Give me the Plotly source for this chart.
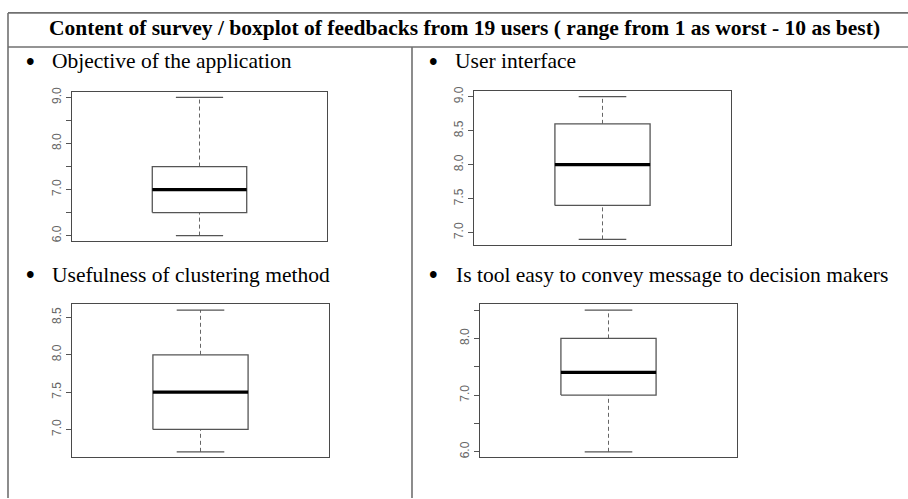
import plotly.graph_objects as go

# ---- data ----
titles = [
    "Objective of the application",
    "User interface",
    "Usefulness of clustering method",
    "Is tool easy to convey message to decision makers",
]
header = "Content of survey / boxplot of feedbacks from 19 users ( range from 1 as worst - 10 as best)"
mins = [6.0, 6.9, 6.7, 6.0]
q1s = [6.5, 7.4, 7.0, 7.0]
medians = [7.0, 8.0, 7.5, 7.4]
q3s = [7.5, 8.6, 8.0, 8.0]
maxs = [9.0, 9.0, 8.6, 8.5]
tickvals = [
    [6.0, 6.5, 7.0, 7.5, 8.0, 8.5, 9.0],
    [7.0, 7.5, 8.0, 8.5, 9.0],
    [7.0, 7.5, 8.0, 8.5],
    [6.0, 6.5, 7.0, 7.5, 8.0, 8.5],
]
ticktexts = [
    ["6.0", "", "7.0", "", "8.0", "", "9.0"],
    ["7.0", "7.5", "8.0", "8.5", "9.0"],
    ["7.0", "7.5", "8.0", "8.5"],
    ["6.0", "", "7.0", "", "8.0", ""],
]

# ---- layout geometry (pixels) ----
W, H = 908, 499
frames = [  # x0, x1, y0(top), y1(bottom)
    (72, 327, 88, 239),
    (474, 731, 87, 243),
    (72, 329, 303, 458),
    (480, 737, 303, 458),
]
title_pos = [(30, 50, 57), (433, 453, 57), (30, 50, 273), (433, 454, 273)]

def px(x):
    return x / W

def py(y):
    return 1 - y / H

fig = go.Figure()
BOXC = "#555555"
HW, CW = 0.2, 0.1
for i in range(4):
    xa = "x" if i == 0 else f"x{i+1}"
    ya = "y" if i == 0 else f"y{i+1}"
    c = 1
    fig.add_trace(go.Scatter(x=[c, c, None, c, c], y=[mins[i], q1s[i], None, q3s[i], maxs[i]],
                             mode="lines", line=dict(color="#666666", width=1, dash="4px,3px"),
                             xaxis=xa, yaxis=ya, hoverinfo="skip"))
    fig.add_trace(go.Scatter(x=[c - CW, c + CW, None, c - CW, c + CW],
                             y=[mins[i], mins[i], None, maxs[i], maxs[i]],
                             mode="lines", line=dict(color=BOXC, width=1.3),
                             xaxis=xa, yaxis=ya, hoverinfo="skip"))
    fig.add_trace(go.Scatter(x=[c - HW, c + HW, c + HW, c - HW, c - HW],
                             y=[q1s[i], q1s[i], q3s[i], q3s[i], q1s[i]],
                             mode="lines", line=dict(color=BOXC, width=1.3),
                             fill="toself", fillcolor="white",
                             xaxis=xa, yaxis=ya, hoverinfo="skip"))
    fig.add_trace(go.Scatter(x=[c - HW, c + HW], y=[medians[i], medians[i]],
                             mode="lines", line=dict(color="black", width=3.2),
                             xaxis=xa, yaxis=ya, hoverinfo="skip"))
    lo, hi = mins[i], maxs[i]
    ext = (hi - lo) * 0.04
    x0, x1, y0, y1 = frames[i]
    key = "" if i == 0 else str(i + 1)
    fig.layout["xaxis" + key] = dict(domain=[px(x0), px(x1)], range=[0.46, 1.54],
                                     showticklabels=False, ticks="", showgrid=False,
                                     zeroline=False, showline=True, mirror=True,
                                     linecolor="#4a4a4a", linewidth=1.2,
                                     anchor=ya, fixedrange=True)
    fig.layout["yaxis" + key] = dict(domain=[py(y1), py(y0)], range=[lo - ext, hi + ext],
                                     tickvals=tickvals[i], ticktext=ticktexts[i],
                                     ticks="outside", ticklen=5, tickcolor="#555555",
                                     tickwidth=1, tickangle=-90,
                                     tickfont=dict(family="Liberation Sans", size=12, color="#666666"),
                                     showgrid=False, zeroline=False, showline=True, mirror=True,
                                     linecolor="#4a4a4a", linewidth=1.2,
                                     anchor=xa, fixedrange=True)

# table lines
LC = "#707070"
shapes = [
    dict(type="line", xref="paper", yref="paper", x0=px(8), x1=px(908), y0=py(8), y1=py(8)),
    dict(type="line", xref="paper", yref="paper", x0=px(8), x1=px(908), y0=py(42.5), y1=py(42.5)),
    dict(type="line", xref="paper", yref="paper", x0=px(8), x1=px(8), y0=py(8), y1=py(499)),
    dict(type="line", xref="paper", yref="paper", x0=px(412), x1=px(412), y0=py(42.5), y1=py(499)),
]
for s in shapes:
    s["line"] = dict(color=LC, width=1.6)

FS = 21.5
annotations = [
    dict(text=f"<b>{header}</b>", x=px(464.5), y=py(23), xref="paper", yref="paper",
         showarrow=False, xanchor="center", yanchor="middle",
         font=dict(family="Liberation Serif", size=FS, color="black")),
]
for i in range(4):
    bx, tx, ty = title_pos[i]
    annotations.append(dict(text="<b>•</b>", x=px(bx), y=py(ty), xref="paper", yref="paper",
                            showarrow=False, xanchor="center", yanchor="middle",
                            font=dict(family="Liberation Serif", size=FS + 3, color="black")))
    annotations.append(dict(text=titles[i], x=px(tx), y=py(ty), xref="paper", yref="paper",
                            showarrow=False, xanchor="left", yanchor="middle",
                            font=dict(family="Liberation Serif", size=FS, color="black")))

fig.update_layout(width=W, height=H, margin=dict(l=0, r=0, t=0, b=0),
                  paper_bgcolor="white", plot_bgcolor="white", showlegend=False,
                  shapes=shapes, annotations=annotations)

fig.write_html("out.html", config={"displayModeBar": False},
               post_script="document.body.style.margin='0';document.body.style.padding='0';document.body.style.overflow='hidden';")
